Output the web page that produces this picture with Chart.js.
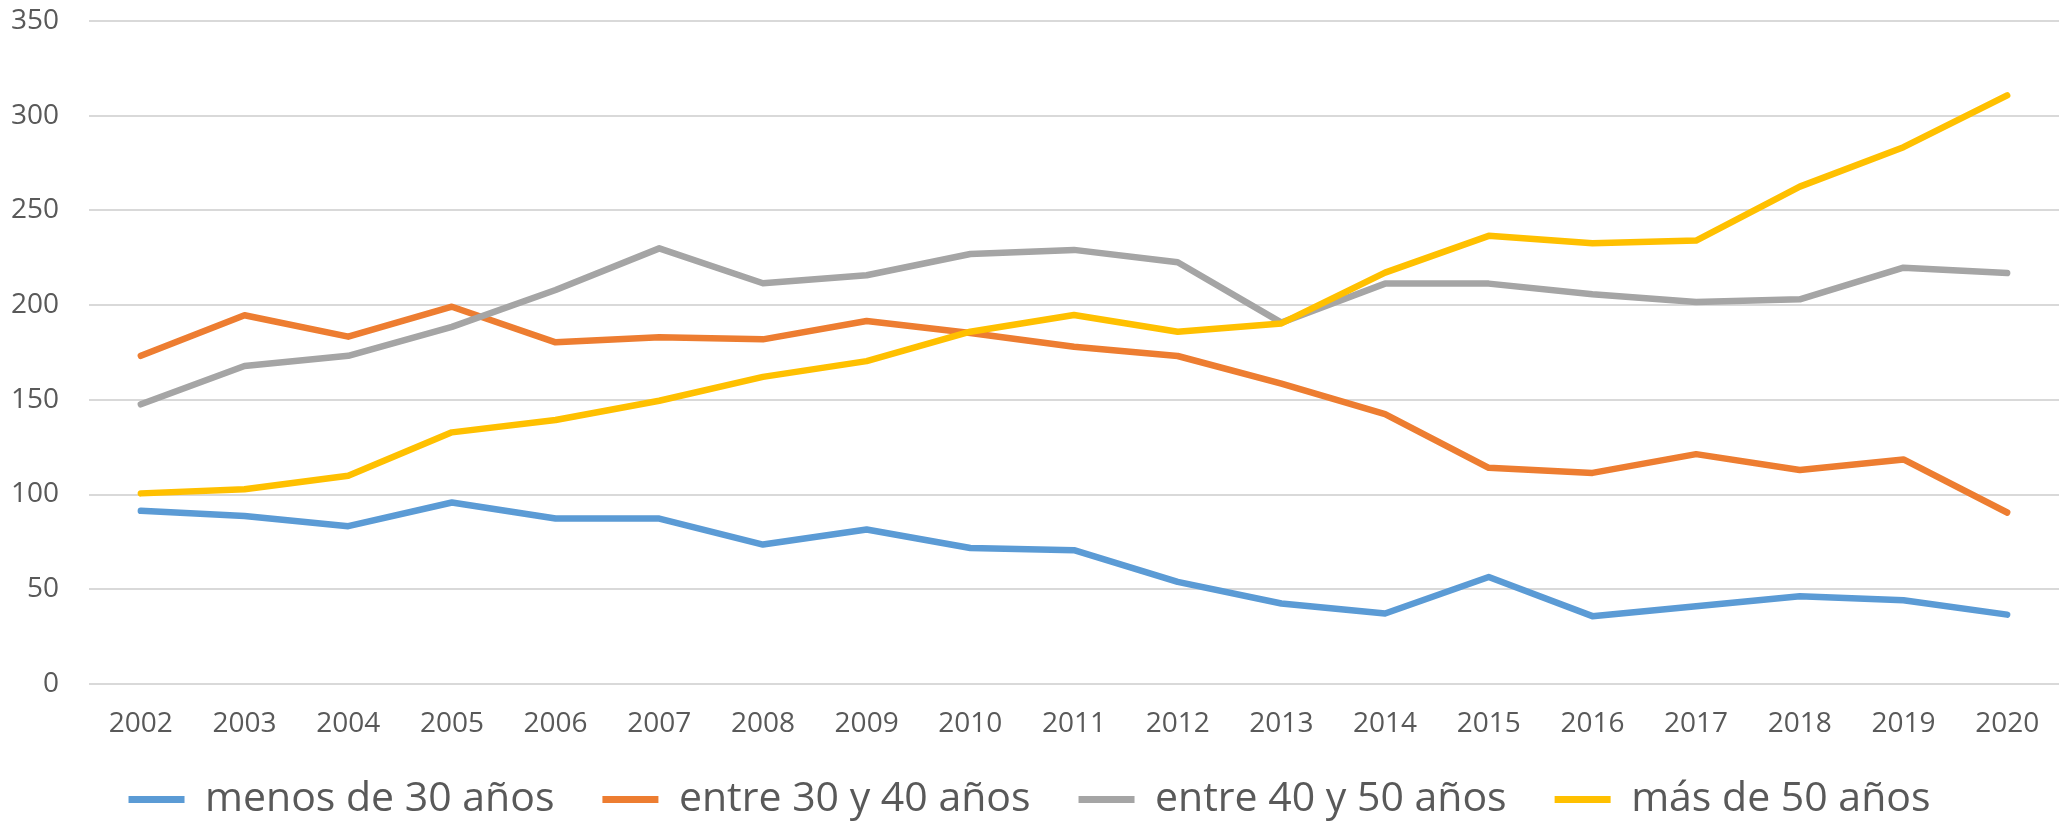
<!DOCTYPE html>
<html>
<head>
<meta charset="utf-8">
<script src="https://cdn.jsdelivr.net/npm/chart.js@4"></script>
<style>
  html, body { margin: 0; padding: 0; background: #ffffff; }
  #wrap { width: 2062px; height: 822px; position: relative; }
</style>
</head>
<body>
<div id="wrap"><canvas id="ageChart"></canvas></div>
<script>
// years on the x axis
const years = ["2002", "2003", "2004", "2005", "2006", "2007", "2008", "2009", "2010", "2011",
  "2012", "2013", "2014", "2015", "2016", "2017", "2018", "2019", "2020"];

// values
const menos30 = [91.4, 88.7, 83.3, 95.8, 87.3, 87.3, 73.6, 81.5, 71.8, 70.6,
  53.9, 42.5, 37.2, 56.5, 35.8, 41.0, 46.3, 44.2, 36.6];
const entre30y40 = [173.2, 194.6, 183.3, 199.1, 180.3, 183.0, 181.9, 191.6, 185.2, 178.0,
  173.1, 158.5, 142.4, 114.1, 111.4, 121.3, 112.9, 118.5, 90.5];
const entre40y50 = [147.6, 167.8, 173.2, 188.5, 207.9, 229.9, 211.5, 215.7, 226.9, 229.1,
  222.6, 190.7, 211.3, 211.3, 205.7, 201.6, 203.0, 219.7, 216.9];
const mas50 = [100.6, 102.8, 109.9, 132.8, 139.3, 149.5, 162.1, 170.4, 185.9, 194.7,
  185.9, 190.3, 217.1, 236.5, 232.6, 234.0, 262.5, 283.3, 310.6];

const seriesNames = ["menos de 30 años", "entre 30 y 40 años", "entre 40 y 50 años", "más de 50 años"];
const yTicks = [0, 50, 100, 150, 200, 250, 300, 350];

const color = {
  Blue: "#5B9BD5",
  Orange: "#ED7D31",
  Gray: "#A5A5A5",
  Yellow: "#FFC000",
  Text: "#595959",
  Grid: "#D9D9D9",
};

function makeLine(label, data, c, order) {
  return {
    label: label,
    data: data,
    borderColor: c,
    backgroundColor: c,
    borderWidth: 6.5,
    borderCapStyle: "round",
    borderJoinStyle: "round",
    pointRadius: 0,
    tension: 0,
    fill: false,
    order: order, // later series painted on top, like the original
  };
}

const ageChartData = {
  labels: years,
  datasets: [
    makeLine(seriesNames[0], menos30, color.Blue, 3),
    makeLine(seriesNames[1], entre30y40, color.Orange, 2),
    makeLine(seriesNames[2], entre40y50, color.Gray, 1),
    makeLine(seriesNames[3], mas50, color.Yellow, 0),
  ],
};

const ageChartConfig = {
  type: "line",
  data: ageChartData,
  options: {
    responsive: true,
    maintainAspectRatio: false,
    animation: false,
    layout: { padding: { top: 0, right: 3, left: 0, bottom: -8 } },
    plugins: {
      tooltip: { enabled: false },
      legend: {
        position: "bottom",
        labels: {
          boxWidth: 56,
          boxHeight: 7,
          padding: 48,
          color: color.Text,
          font: { family: "'Open Sans', sans-serif", size: 41 },
          generateLabels: function(chart) {
            return chart.data.datasets.map(function(ds, i) {
              return {
                text: ds.label,
                fillStyle: ds.borderColor,
                strokeStyle: ds.borderColor,
                lineWidth: 0,
                hidden: false,
                datasetIndex: i,
                fontColor: color.Text,
              };
            });
          },
        },
      },
    },
    scales: {
      x: {
        offset: true,
        grid: { display: false },
        border: { display: false },
        ticks: {
          color: color.Text,
          font: { family: "'Open Sans', sans-serif", size: 28 },
          // mirrored + negative padding: labels sit below the axis but are not clipped
          mirror: true,
          padding: -57,
          maxRotation: 0,
          autoSkip: false,
        },
        afterFit: function(scale) { scale.height = 47; },
      },
      y: {
        min: 0,
        max: 350,
        border: { display: false },
        grid: { color: color.Grid, lineWidth: 2, drawTicks: true, tickLength: 26, tickColor: "rgba(0,0,0,0)" },
        afterBuildTicks: function(scale) {
          scale.ticks = yTicks.map(function(v) { return { value: v }; });
        },
        ticks: {
          color: color.Text,
          font: { family: "'Open Sans', sans-serif", size: 28 },
          padding: 4,
        },
        afterFit: function(scale) { scale.width = 89; },
      },
    },
  },
};

const ageChart = new Chart(document.getElementById("ageChart"), ageChartConfig);
</script>
</body>
</html>
